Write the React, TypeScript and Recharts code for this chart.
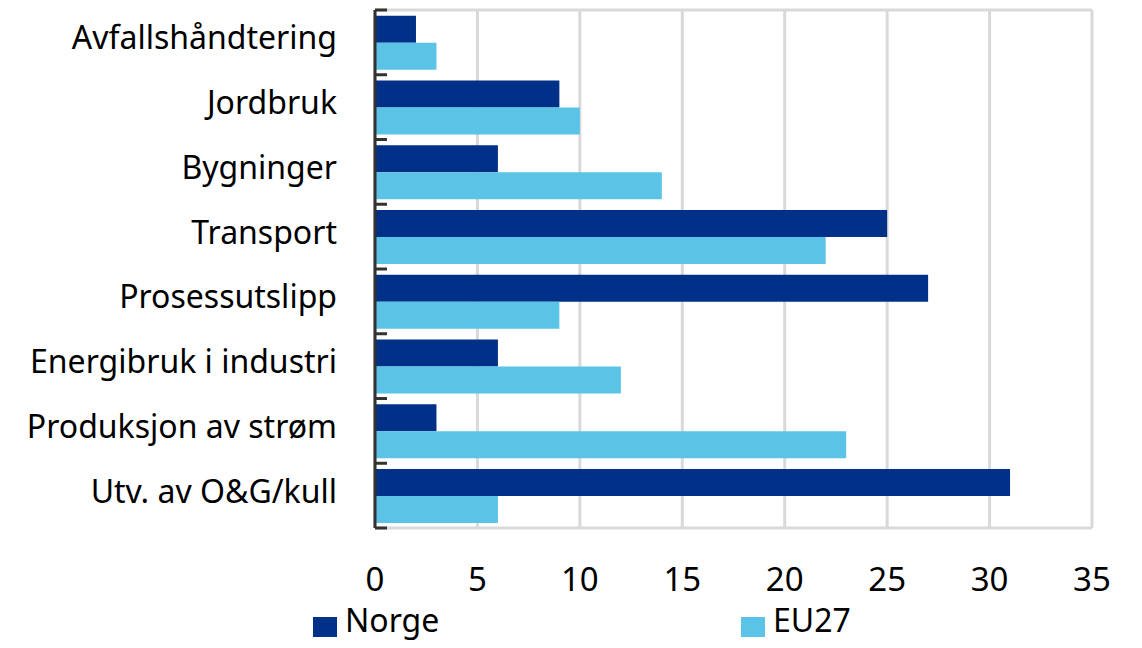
import React from "react";
import {
  BarChart,
  Bar,
  XAxis,
  YAxis,
  CartesianGrid,
  Legend,
} from "recharts";

// Sector shares (percent)
const categories = [
  "Avfallshåndtering",
  "Jordbruk",
  "Bygninger",
  "Transport",
  "Prosessutslipp",
  "Energibruk i industri",
  "Produksjon av strøm",
  "Utv. av O&G/kull",
];
const norge = [2, 9, 6, 25, 27, 6, 3, 31];
const eu27 = [3, 10, 14, 22, 9, 12, 23, 6];
const xTicks = [0, 5, 10, 15, 20, 25, 30, 35];

const NORGE_COLOR = "#003087";
const EU_COLOR = "#5BC3E6";
const FONT = "'Noto Sans', sans-serif";

const WIDTH = 1142;
const HEIGHT = 648;
const MARGIN = { top: 10, right: 50, left: 0, bottom: 0 };
const X_AXIS_HEIGHT = 69;
const LEGEND_HEIGHT = 51;
const PLOT_H = HEIGHT - MARGIN.top - MARGIN.bottom - X_AXIS_HEIGHT - LEGEND_HEIGHT;
const BAND = PLOT_H / categories.length;

const data = categories.map((name, i) => ({
  name,
  Norge: norge[i],
  EU27: eu27[i],
}));

function CategoryTick(props: any) {
  const { x, y, payload, index } = props;
  return (
    <g>
      <line x1={x} x2={x + 12} y1={y - BAND / 2} y2={y - BAND / 2} stroke="#333" strokeWidth={3} />
      {index === categories.length - 1 && (
        <line x1={x} x2={x + 12} y1={y + BAND / 2} y2={y + BAND / 2} stroke="#333" strokeWidth={3} />
      )}
      <text
        x={x - 38}
        y={y}
        dy={7}
        textAnchor="end"
        fontSize={32}
        fontFamily={FONT}
        fill="#000"
      >
        {payload.value}
      </text>
    </g>
  );
}

function LegendContent() {
  const items = [
    { label: "Norge", color: NORGE_COLOR, left: 313 },
    { label: "EU27", color: EU_COLOR, left: 741 },
  ];
  return (
    <div style={{ position: "relative", height: LEGEND_HEIGHT, width: WIDTH }}>
      {items.map((it) => (
        <React.Fragment key={it.label}>
          <span
            style={{
              position: "absolute",
              left: it.left,
              top: 20,
              width: 24,
              height: 20,
              background: it.color,
            }}
          />
          <span
            style={{
              position: "absolute",
              left: it.left + 32,
              top: 7,
              lineHeight: "32px",
              fontFamily: FONT,
              fontSize: 32,
              color: "#000",
            }}
          >
            {it.label}
          </span>
        </React.Fragment>
      ))}
    </div>
  );
}

export default function App() {
  return (
    <div style={{ position: "absolute", left: 0, top: 0, background: "#fff" }}>
      <BarChart
        width={WIDTH}
        height={HEIGHT}
        data={data}
        layout="vertical"
        margin={MARGIN}
        barCategoryGap="9%"
        barGap={0}
      >
        <CartesianGrid
          stroke="#D9D9D9"
          strokeWidth={3}
          horizontalCoordinatesGenerator={({ offset }: any) => [
            offset.top,
            offset.top + offset.height,
          ]}
        />
        <XAxis
          type="number"
          domain={[0, 35]}
          ticks={xTicks}
          axisLine={false}
          tickLine={false}
          tickSize={0}
          height={X_AXIS_HEIGHT}
          tickMargin={40}
          tick={{ fontSize: 33, fontFamily: FONT, fill: "#000" }}
        />
        <YAxis
          type="category"
          dataKey="name"
          width={375}
          tickSize={0}
          tickMargin={0}
          tickLine={false}
          axisLine={{ stroke: "#333", strokeWidth: 3 }}
          tick={<CategoryTick />}
          interval={0}
        />
        <Legend verticalAlign="bottom" height={LEGEND_HEIGHT} content={<LegendContent />} />
        <Bar dataKey="Norge" fill={NORGE_COLOR} isAnimationActive={false} />
        <Bar dataKey="EU27" fill={EU_COLOR} isAnimationActive={false} />
      </BarChart>
    </div>
  );
}
